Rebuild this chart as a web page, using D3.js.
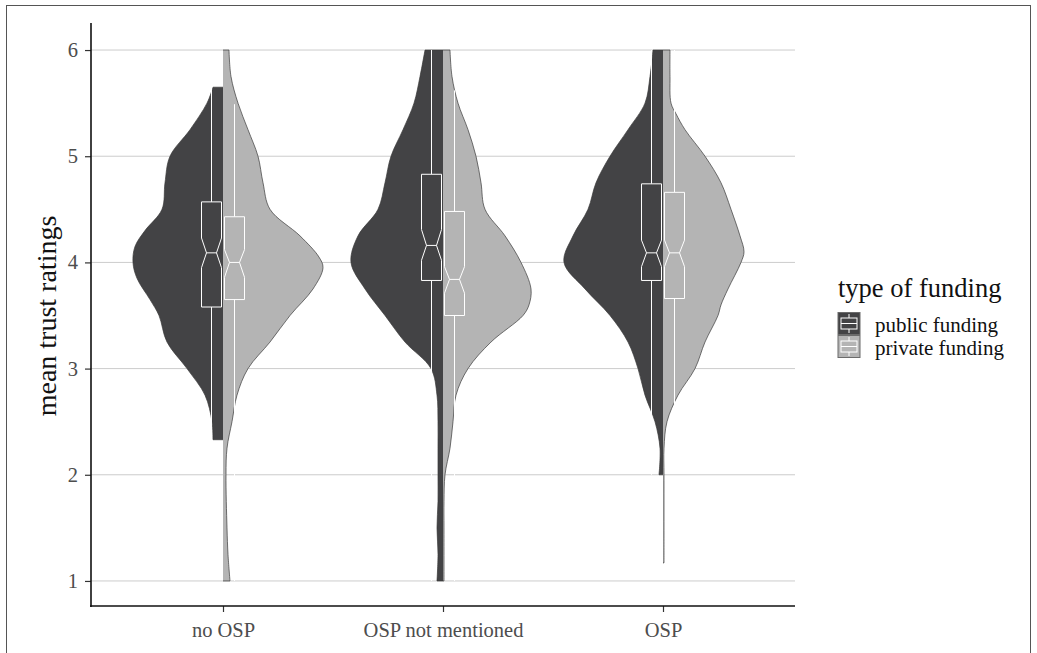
<!DOCTYPE html>
<html>
<head>
<meta charset="utf-8">
<script src="https://cdnjs.cloudflare.com/ajax/libs/d3/7.8.5/d3.min.js"></script>
<style>
  body { margin: 0; background: #fff; }
  svg { display: block; font-family: "Liberation Serif", "Times New Roman", serif; }
</style>
</head>
<body>
<svg class="js-chart" width="1037" height="653"></svg>
<script>
var categories = ['no OSP', 'OSP not mentioned', 'OSP'],
    fundings = ['public funding', 'private funding'],
    yTicks = [1, 2, 3, 4, 5, 6];

// violin outlines: [rating, density]
var noOspPublic = [[5.65,0.10],[5.5,0.16],[5.25,0.33],[5.0,0.53],[4.75,0.58],[4.5,0.61],[4.3,0.78],[4.15,0.88],[4.0,0.90],[3.85,0.86],[3.65,0.73],[3.5,0.64],[3.25,0.56],[3.0,0.36],[2.75,0.18],[2.5,0.11],[2.33,0.10]];
var noOspPrivate = [[6.0,0.06],[5.75,0.08],[5.5,0.15],[5.25,0.25],[5.0,0.35],[4.75,0.40],[4.5,0.47],[4.25,0.77],[4.05,0.96],[3.95,1.0],[3.75,0.90],[3.5,0.67],[3.25,0.47],[3.0,0.25],[2.75,0.14],[2.5,0.09],[2.25,0.04],[2.0,0.03],[1.5,0.04],[1.25,0.05],[1.0,0.07]];
var notMentionedPublic = [[6.0,0.18],[5.75,0.23],[5.5,0.29],[5.25,0.40],[5.0,0.52],[4.75,0.58],[4.5,0.65],[4.25,0.85],[4.0,0.92],[3.75,0.78],[3.5,0.58],[3.25,0.38],[3.0,0.12],[2.75,0.06],[2.5,0.05],[2.25,0.05],[2.0,0.05],[1.75,0.05],[1.5,0.06],[1.25,0.05],[1.0,0.06]];
var notMentionedPrivate = [[6.0,0.07],[5.75,0.09],[5.5,0.15],[5.25,0.25],[5.0,0.33],[4.75,0.38],[4.5,0.42],[4.25,0.62],[4.0,0.78],[3.75,0.88],[3.6,0.86],[3.5,0.80],[3.25,0.48],[3.0,0.25],[2.75,0.13],[2.5,0.10],[2.25,0.07],[2.0,0.02],[1.75,0.01],[1.5,0.01],[1.0,0.01]];
var ospPublic = [[6.0,0.10],[5.75,0.13],[5.5,0.18],[5.25,0.35],[5.0,0.53],[4.75,0.67],[4.5,0.75],[4.25,0.90],[4.0,0.99],[3.75,0.78],[3.5,0.53],[3.25,0.35],[3.0,0.25],[2.75,0.18],[2.5,0.08],[2.25,0.03],[2.0,0.04]];
var ospPrivate = [[6.0,0.07],[5.75,0.07],[5.5,0.08],[5.4,0.13],[5.25,0.22],[5.0,0.42],[4.75,0.58],[4.5,0.68],[4.25,0.77],[4.1,0.81],[4.0,0.78],[3.75,0.65],[3.6,0.58],[3.5,0.55],[3.25,0.42],[3.0,0.32],[2.75,0.15],[2.5,0.04],[2.25,0.01],[2.0,0.01],[1.5,0.01],[1.17,0.01]];

// boxplot stats: [whisker low, q1, notch low, median, notch high, q3, whisker high]
var publicBoxes = [[2.33,3.58,3.95,4.09,4.23,4.57,5.65],[1.0,3.83,4.02,4.16,4.31,4.83,6.0],[2.0,3.83,3.96,4.09,4.21,4.74,6.0]];
var privateBoxes = [[1.0,3.65,3.86,4.0,4.12,4.43,5.49],[1.0,3.5,3.71,3.84,3.96,4.48,5.62],[2.1,3.66,3.96,4.09,4.21,4.66,6.0]];

var publicViolins = [noOspPublic, notMentionedPublic, ospPublic],
    privateViolins = [noOspPrivate, notMentionedPrivate, ospPrivate],
    fills = ['#434345', '#b4b4b4'];

var svg = d3.select('.js-chart');

var x = d3.scalePoint().domain(categories).range([91, 795]).padding(0.6),
    y = d3.scaleLinear().domain([0.75, 6.25]).range([607.5, 23.5]),
    w = d3.scaleLinear().domain([0, 1]).range([0, 100]);

// outer frame
svg.append('rect')
    .attr('x', 6.5).attr('y', 5.5)
    .attr('width', 1024).attr('height', 670)
    .attr('fill', 'none').attr('stroke', '#555').attr('stroke-width', 1);

// gridlines
svg.append('g').selectAll('line')
    .data(yTicks)
    .enter()
    .append('line')
    .attr('x1', 91).attr('x2', 795)
    .attr('y1', function(d) { return y(d); })
    .attr('y2', function(d) { return y(d); })
    .attr('stroke', '#cccccc').attr('stroke-width', 1);

// violins
var series = [];
categories.forEach(function(c, i) {
  series.push({ cat: c, side: -1, fill: fills[0], dens: publicViolins[i], box: publicBoxes[i] });
  series.push({ cat: c, side: 1, fill: fills[1], dens: privateViolins[i], box: privateBoxes[i] });
});

var curve = d3.curveCatmullRom;

series.forEach(function(s) {
  var cx = x(s.cat);
  var area = d3.area().curve(curve)
      .y(function(d) { return y(d[0]); })
      .x0(cx)
      .x1(function(d) { return cx + s.side * w(d[1]); });
  var edge = d3.line().curve(curve)
      .x(function(d) { return cx + s.side * w(d[1]); })
      .y(function(d) { return y(d[0]); });
  var top = s.dens[0][0], bottom = s.dens[s.dens.length - 1][0];

  svg.append('path')
      .attr('d', area(s.dens))
      .attr('fill', s.fill);
  svg.append('path')
      .attr('d', 'M' + cx + ',' + y(top) + 'L' + edge(s.dens).slice(1) + 'L' + cx + ',' + y(bottom))
      .attr('fill', 'none')
      .attr('stroke', '#3a3a3a')
      .attr('stroke-width', 0.7);
});

// notched boxplots
var BOX_HALF = 10, NOTCH_HALF = 5, BOX_OFFSET = 11.5;
series.forEach(function(s) {
  var bx = x(s.cat) + s.side * BOX_OFFSET,
      b = s.box,
      x0 = bx - BOX_HALF, x1 = bx + BOX_HALF,
      n0 = bx - NOTCH_HALF, n1 = bx + NOTCH_HALF;
  var g = svg.append('g')
      .attr('stroke', '#fff')
      .attr('stroke-width', 1)
      .attr('fill', s.fill);
  g.append('line')
      .attr('x1', bx).attr('x2', bx)
      .attr('y1', y(b[5])).attr('y2', y(b[6]));
  g.append('line')
      .attr('x1', bx).attr('x2', bx)
      .attr('y1', y(b[1])).attr('y2', y(b[0]));
  var pts = [[x0, b[5]], [x1, b[5]], [x1, b[4]], [n1, b[3]], [x1, b[2]], [x1, b[1]],
             [x0, b[1]], [x0, b[2]], [n0, b[3]], [x0, b[4]]];
  g.append('path')
      .attr('d', 'M' + pts.map(function(p) { return p[0] + ',' + y(p[1]); }).join('L') + 'Z');
  g.append('line')
      .attr('x1', n0).attr('x2', n1)
      .attr('y1', y(b[3])).attr('y2', y(b[3]));
});

// axes
var yAxis = svg.append('g')
    .attr('transform', 'translate(91,0)')
    .call(d3.axisLeft(y).tickValues(yTicks).tickFormat(d3.format('d')).tickSize(6).tickPadding(7));
var xAxis = svg.append('g')
    .attr('transform', 'translate(0,606)')
    .call(d3.axisBottom(x).tickSize(6).tickPadding(8));

[yAxis, xAxis].forEach(function(a) {
  a.select('.domain').remove();
  a.selectAll('.tick line').attr('stroke', '#333').attr('stroke-width', 1.2);
  a.selectAll('.tick text')
      .attr('fill', '#4d4d4d')
      .style('font-family', '"Liberation Serif", "Times New Roman", serif')
      .style('font-size', '20.5px');
});
xAxis.selectAll('.tick text').attr('dy', '0.82em');

svg.append('line')
    .attr('x1', 91).attr('x2', 91).attr('y1', 23).attr('y2', 607)
    .attr('stroke', '#111').attr('stroke-width', 1.6);
svg.append('line')
    .attr('x1', 90).attr('x2', 795).attr('y1', 606).attr('y2', 606)
    .attr('stroke', '#111').attr('stroke-width', 1.6);

// y axis title
svg.append('text')
    .attr('transform', 'translate(56,316) rotate(-90)')
    .attr('text-anchor', 'middle')
    .style('font-size', '28px')
    .attr('fill', '#111')
    .text('mean trust ratings');

// legend
var legend = svg.append('g').attr('transform', 'translate(838,0)');
legend.append('text')
    .attr('x', 0).attr('y', 297)
    .style('font-size', '26.5px')
    .attr('fill', '#111')
    .text('type of funding');

var key = legend.selectAll('.key')
    .data(fundings)
    .enter()
    .append('g')
    .attr('class', 'key')
    .attr('transform', function(d, i) { return 'translate(0,' + (312.5 + i * 23) + ')'; });
key.append('rect')
    .attr('width', 22).attr('height', 22)
    .attr('fill', function(d, i) { return fills[i]; })
    .attr('stroke', '#6b6b6b').attr('stroke-width', 1);
key.append('line')
    .attr('x1', 11).attr('x2', 11).attr('y1', 1.5).attr('y2', 20.5)
    .attr('stroke', '#fff');
key.append('rect')
    .attr('x', 3).attr('y', 5.5).attr('width', 16).attr('height', 11)
    .attr('fill', function(d, i) { return fills[i]; })
    .attr('stroke', '#fff');
key.append('line')
    .attr('x1', 3).attr('x2', 19).attr('y1', 11).attr('y2', 11)
    .attr('stroke', '#fff');
key.append('text')
    .attr('x', 37).attr('y', 19)
    .style('font-size', '21px')
    .attr('fill', '#111')
    .text(function(d) { return d; });
</script>
</body>
</html>
